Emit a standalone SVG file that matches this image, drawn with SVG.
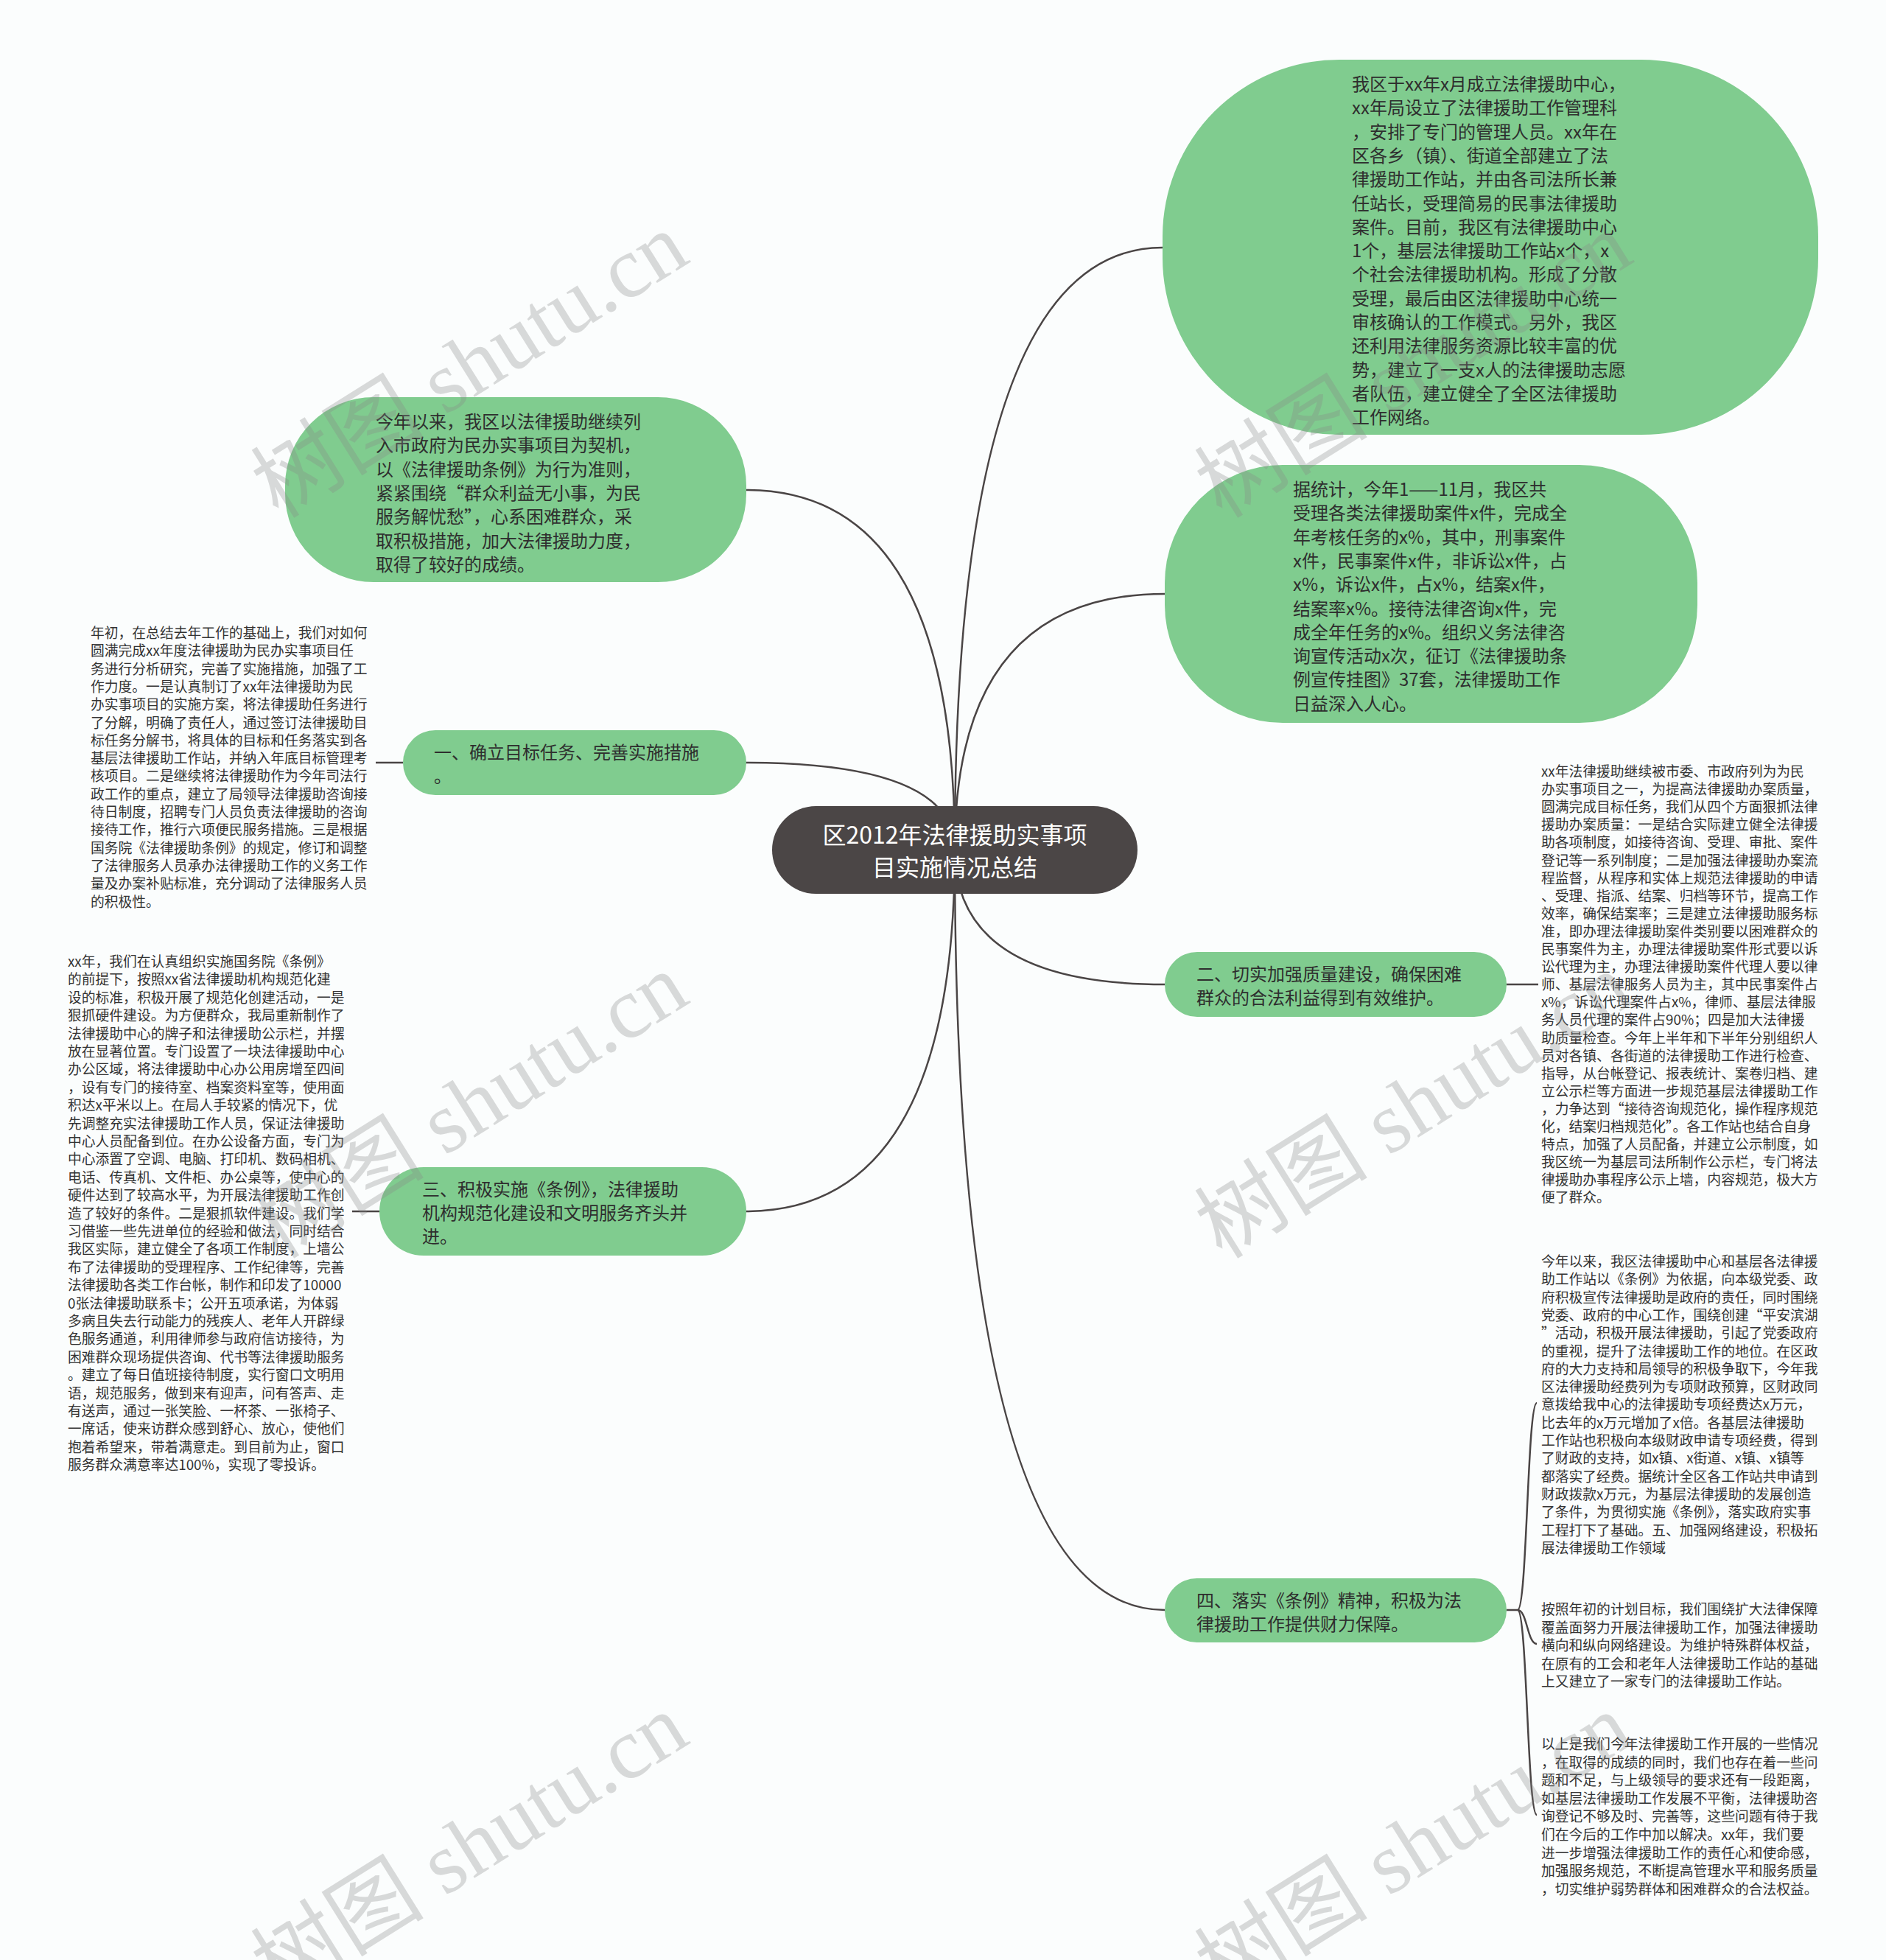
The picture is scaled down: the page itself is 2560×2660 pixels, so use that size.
<svg xmlns="http://www.w3.org/2000/svg" width="2560" height="2660" viewBox="0 0 2560 2660">
<style>
.bg{fill:#fbfdfd}
.bub{fill:#80cc8f}
.ctr{fill:#4b4646}
.edge{fill:none;stroke:#4a4545;stroke-width:2.5}
.t24{font-family:"Noto Sans CJK SC","Noto Sans",sans-serif;font-size:24px;fill:#2e2e2e;dominant-baseline:central}
.t19{font-family:"Noto Sans CJK SC","Noto Sans",sans-serif;font-size:18.8px;fill:#333;dominant-baseline:central}
.tc{font-family:"Noto Sans CJK SC","Noto Sans",sans-serif;font-size:32px;fill:#ffffff;dominant-baseline:central;text-anchor:middle}
.wm{font-family:"Liberation Serif","Noto Sans CJK SC",serif;font-size:118px;fill:#888;opacity:0.3}
</style>
<rect class="bg" x="0" y="0" width="2560" height="2660"/>
<g id="connectors">
<path class="edge" d="M1296,1153 Q1296,336 1578,336"/>
<path class="edge" d="M1296,1153 Q1296,806 1581,806"/>
<path class="edge" d="M1296,1153 Q1296,665 1013,665"/>
<path class="edge" d="M1296,1153 Q1296,1035 1012,1035"/>
<path class="edge" d="M1296,1153 Q1296,1336 1581,1336"/>
<path class="edge" d="M1296,1153 Q1296,1644 1012,1644"/>
<path class="edge" d="M1296,1153 Q1296,2185 1581,2185"/>
<path class="edge" d="M547,1035 L510,1035"/>
<path class="edge" d="M2045,1336 L2088,1336"/>
<path class="edge" d="M515,1644 L478,1644"/>
<path class="edge" d="M2045,2185 L2060,2185 C2073,2185 2073,1904 2086,1904"/>
<path class="edge" d="M2060,2185 C2073,2185 2073,2231 2086,2231"/>
<path class="edge" d="M2060,2185 C2073,2185 2073,2463 2086,2463"/>
</g>
<g id="center">
<rect class="ctr" x="1048" y="1094" width="496" height="119" rx="59.5"/>
<text class="tc"><tspan x="1296" y="1131">区2012年法律援助实事项</tspan><tspan x="1296" y="1175">目实施情况总结</tspan></text>
</g>
<g id="n-top-right">
<rect class="bub" x="1578" y="81" width="890" height="509" rx="240"/>
<text class="t24">
<tspan x="1835" y="112">我区于xx年x月成立法律援助中心，</tspan>
<tspan x="1835" y="144.3">xx年局设立了法律援助工作管理科</tspan>
<tspan x="1835" y="176.6">，安排了专门的管理人员。xx年在</tspan>
<tspan x="1835" y="208.9">区各乡（镇）、街道全部建立了法</tspan>
<tspan x="1835" y="241.2">律援助工作站，并由各司法所长兼</tspan>
<tspan x="1835" y="273.5">任站长，受理简易的民事法律援助</tspan>
<tspan x="1835" y="305.8">案件。目前，我区有法律援助中心</tspan>
<tspan x="1835" y="338.1">1个，基层法律援助工作站x个，x</tspan>
<tspan x="1835" y="370.4">个社会法律援助机构。形成了分散</tspan>
<tspan x="1835" y="402.7">受理，最后由区法律援助中心统一</tspan>
<tspan x="1835" y="435">审核确认的工作模式。另外，我区</tspan>
<tspan x="1835" y="467.3">还利用法律服务资源比较丰富的优</tspan>
<tspan x="1835" y="499.6">势，建立了一支x人的法律援助志愿</tspan>
<tspan x="1835" y="531.9">者队伍，建立健全了全区法律援助</tspan>
<tspan x="1835" y="564.2">工作网络。</tspan>
</text>
</g>
<g id="n-right-2">
<rect class="bub" x="1581" y="631" width="723" height="350" rx="160"/>
<text class="t24">
<tspan x="1755" y="662">据统计，今年1——11月，我区共</tspan>
<tspan x="1755" y="694.3">受理各类法律援助案件x件，完成全</tspan>
<tspan x="1755" y="726.6">年考核任务的x%，其中，刑事案件</tspan>
<tspan x="1755" y="758.9">x件，民事案件x件，非诉讼x件，占</tspan>
<tspan x="1755" y="791.2">x%，诉讼x件，占x%，结案x件，</tspan>
<tspan x="1755" y="823.5">结案率x%。接待法律咨询x件，完</tspan>
<tspan x="1755" y="855.8">成全年任务的x%。组织义务法律咨</tspan>
<tspan x="1755" y="888.1">询宣传活动x次，征订《法律援助条</tspan>
<tspan x="1755" y="920.4">例宣传挂图》37套，法律援助工作</tspan>
<tspan x="1755" y="952.7">日益深入人心。</tspan>
</text>
</g>
<g id="n-left-top">
<rect class="bub" x="387" y="539" width="626" height="251" rx="120"/>
<text class="t24">
<tspan x="510" y="570">今年以来，我区以法律援助继续列</tspan>
<tspan x="510" y="602.3">入市政府为民办实事项目为契机，</tspan>
<tspan x="510" y="634.6">以《法律援助条例》为行为准则，</tspan>
<tspan x="510" y="666.9">紧紧围绕“群众利益无小事，为民</tspan>
<tspan x="510" y="699.2">服务解忧愁”，心系困难群众，采</tspan>
<tspan x="510" y="731.5">取积极措施，加大法律援助力度，</tspan>
<tspan x="510" y="763.8">取得了较好的成绩。</tspan>
</text>
</g>
<g id="n1">
<rect class="bub" x="547" y="991" width="466" height="88" rx="44"/>
<text class="t24"><tspan x="589" y="1019">一、确立目标任务、完善实施措施</tspan><tspan x="589" y="1051">。</tspan></text>
</g>
<g id="n2">
<rect class="bub" x="1581" y="1292" width="464" height="88" rx="44"/>
<text class="t24"><tspan x="1624" y="1320">二、切实加强质量建设，确保困难</tspan><tspan x="1624" y="1352">群众的合法利益得到有效维护。</tspan></text>
</g>
<g id="n3">
<rect class="bub" x="515" y="1584" width="498" height="120" rx="60"/>
<text class="t24"><tspan x="573" y="1612">三、积极实施《条例》，法律援助</tspan><tspan x="573" y="1644">机构规范化建设和文明服务齐头并</tspan><tspan x="573" y="1676">进。</tspan></text>
</g>
<g id="n4">
<rect class="bub" x="1581" y="2142" width="464" height="87" rx="43.5"/>
<text class="t24"><tspan x="1624" y="2170">四、落实《条例》精神，积极为法</tspan><tspan x="1624" y="2202">律援助工作提供财力保障。</tspan></text>
</g>
<g id="leaf1">
<text class="t19">
<tspan x="123" y="857">年初，在总结去年工作的基础上，我们对如何</tspan>
<tspan x="123" y="881.3">圆满完成xx年度法律援助为民办实事项目任</tspan>
<tspan x="123" y="905.6">务进行分析研究，完善了实施措施，加强了工</tspan>
<tspan x="123" y="929.9">作力度。一是认真制订了xx年法律援助为民</tspan>
<tspan x="123" y="954.2">办实事项目的实施方案，将法律援助任务进行</tspan>
<tspan x="123" y="978.5">了分解，明确了责任人，通过签订法律援助目</tspan>
<tspan x="123" y="1002.8">标任务分解书，将具体的目标和任务落实到各</tspan>
<tspan x="123" y="1027.1">基层法律援助工作站，并纳入年底目标管理考</tspan>
<tspan x="123" y="1051.4">核项目。二是继续将法律援助作为今年司法行</tspan>
<tspan x="123" y="1075.7">政工作的重点，建立了局领导法律援助咨询接</tspan>
<tspan x="123" y="1100">待日制度，招聘专门人员负责法律援助的咨询</tspan>
<tspan x="123" y="1124.3">接待工作，推行六项便民服务措施。三是根据</tspan>
<tspan x="123" y="1148.6">国务院《法律援助条例》的规定，修订和调整</tspan>
<tspan x="123" y="1172.9">了法律服务人员承办法律援助工作的义务工作</tspan>
<tspan x="123" y="1197.2">量及办案补贴标准，充分调动了法律服务人员</tspan>
<tspan x="123" y="1221.5">的积极性。</tspan>
</text>
</g>
<g id="leaf3">
<text class="t19">
<tspan x="92" y="1303">xx年，我们在认真组织实施国务院《条例》</tspan>
<tspan x="92" y="1327.4">的前提下，按照xx省法律援助机构规范化建</tspan>
<tspan x="92" y="1351.8">设的标准，积极开展了规范化创建活动，一是</tspan>
<tspan x="92" y="1376.2">狠抓硬件建设。为方便群众，我局重新制作了</tspan>
<tspan x="92" y="1400.6">法律援助中心的牌子和法律援助公示栏，并摆</tspan>
<tspan x="92" y="1425">放在显著位置。专门设置了一块法律援助中心</tspan>
<tspan x="92" y="1449.4">办公区域，将法律援助中心办公用房增至四间</tspan>
<tspan x="92" y="1473.8">，设有专门的接待室、档案资料室等，使用面</tspan>
<tspan x="92" y="1498.2">积达x平米以上。在局人手较紧的情况下，优</tspan>
<tspan x="92" y="1522.6">先调整充实法律援助工作人员，保证法律援助</tspan>
<tspan x="92" y="1547">中心人员配备到位。在办公设备方面，专门为</tspan>
<tspan x="92" y="1571.4">中心添置了空调、电脑、打印机、数码相机、</tspan>
<tspan x="92" y="1595.8">电话、传真机、文件柜、办公桌等，使中心的</tspan>
<tspan x="92" y="1620.2">硬件达到了较高水平，为开展法律援助工作创</tspan>
<tspan x="92" y="1644.6">造了较好的条件。二是狠抓软件建设。我们学</tspan>
<tspan x="92" y="1669">习借鉴一些先进单位的经验和做法，同时结合</tspan>
<tspan x="92" y="1693.4">我区实际，建立健全了各项工作制度，上墙公</tspan>
<tspan x="92" y="1717.8">布了法律援助的受理程序、工作纪律等，完善</tspan>
<tspan x="92" y="1742.2">法律援助各类工作台帐，制作和印发了10000</tspan>
<tspan x="92" y="1766.6">0张法律援助联系卡；公开五项承诺，为体弱</tspan>
<tspan x="92" y="1791">多病且失去行动能力的残疾人、老年人开辟绿</tspan>
<tspan x="92" y="1815.4">色服务通道，利用律师参与政府信访接待，为</tspan>
<tspan x="92" y="1839.8">困难群众现场提供咨询、代书等法律援助服务</tspan>
<tspan x="92" y="1864.2">。建立了每日值班接待制度，实行窗口文明用</tspan>
<tspan x="92" y="1888.6">语，规范服务，做到来有迎声，问有答声、走</tspan>
<tspan x="92" y="1913">有送声，通过一张笑脸、一杯茶、一张椅子、</tspan>
<tspan x="92" y="1937.4">一席话，使来访群众感到舒心、放心，使他们</tspan>
<tspan x="92" y="1961.8">抱着希望来，带着满意走。到目前为止，窗口</tspan>
<tspan x="92" y="1986.2">服务群众满意率达100%，实现了零投诉。</tspan>
</text>
</g>
<g id="leaf2">
<text class="t19">
<tspan x="2092" y="1045">xx年法律援助继续被市委、市政府列为为民</tspan>
<tspan x="2092" y="1069.1">办实事项目之一，为提高法律援助办案质量，</tspan>
<tspan x="2092" y="1093.2">圆满完成目标任务，我们从四个方面狠抓法律</tspan>
<tspan x="2092" y="1117.3">援助办案质量：一是结合实际建立健全法律援</tspan>
<tspan x="2092" y="1141.4">助各项制度，如接待咨询、受理、审批、案件</tspan>
<tspan x="2092" y="1165.5">登记等一系列制度；二是加强法律援助办案流</tspan>
<tspan x="2092" y="1189.6">程监督，从程序和实体上规范法律援助的申请</tspan>
<tspan x="2092" y="1213.7">、受理、指派、结案、归档等环节，提高工作</tspan>
<tspan x="2092" y="1237.8">效率，确保结案率；三是建立法律援助服务标</tspan>
<tspan x="2092" y="1261.9">准，即办理法律援助案件类别要以困难群众的</tspan>
<tspan x="2092" y="1286">民事案件为主，办理法律援助案件形式要以诉</tspan>
<tspan x="2092" y="1310.1">讼代理为主，办理法律援助案件代理人要以律</tspan>
<tspan x="2092" y="1334.2">师、基层法律服务人员为主，其中民事案件占</tspan>
<tspan x="2092" y="1358.3">x%，诉讼代理案件占x%，律师、基层法律服</tspan>
<tspan x="2092" y="1382.4">务人员代理的案件占90%；四是加大法律援</tspan>
<tspan x="2092" y="1406.5">助质量检查。今年上半年和下半年分别组织人</tspan>
<tspan x="2092" y="1430.6">员对各镇、各街道的法律援助工作进行检查、</tspan>
<tspan x="2092" y="1454.7">指导，从台帐登记、报表统计、案卷归档、建</tspan>
<tspan x="2092" y="1478.8">立公示栏等方面进一步规范基层法律援助工作</tspan>
<tspan x="2092" y="1502.9">，力争达到“接待咨询规范化，操作程序规范</tspan>
<tspan x="2092" y="1527">化，结案归档规范化”。各工作站也结合自身</tspan>
<tspan x="2092" y="1551.1">特点，加强了人员配备，并建立公示制度，如</tspan>
<tspan x="2092" y="1575.2">我区统一为基层司法所制作公示栏，专门将法</tspan>
<tspan x="2092" y="1599.3">律援助办事程序公示上墙，内容规范，极大方</tspan>
<tspan x="2092" y="1623.4">便了群众。</tspan>
</text>
</g>
<g id="leaf4a">
<text class="t19">
<tspan x="2092" y="1710">今年以来，我区法律援助中心和基层各法律援</tspan>
<tspan x="2092" y="1734.3">助工作站以《条例》为依据，向本级党委、政</tspan>
<tspan x="2092" y="1758.6">府积极宣传法律援助是政府的责任，同时围绕</tspan>
<tspan x="2092" y="1782.9">党委、政府的中心工作，围绕创建“平安滨湖</tspan>
<tspan x="2092" y="1807.2">”活动，积极开展法律援助，引起了党委政府</tspan>
<tspan x="2092" y="1831.5">的重视，提升了法律援助工作的地位。在区政</tspan>
<tspan x="2092" y="1855.8">府的大力支持和局领导的积极争取下，今年我</tspan>
<tspan x="2092" y="1880.1">区法律援助经费列为专项财政预算，区财政同</tspan>
<tspan x="2092" y="1904.4">意拨给我中心的法律援助专项经费达x万元，</tspan>
<tspan x="2092" y="1928.7">比去年的x万元增加了x倍。各基层法律援助</tspan>
<tspan x="2092" y="1953">工作站也积极向本级财政申请专项经费，得到</tspan>
<tspan x="2092" y="1977.3">了财政的支持，如x镇、x街道、x镇、x镇等</tspan>
<tspan x="2092" y="2001.6">都落实了经费。据统计全区各工作站共申请到</tspan>
<tspan x="2092" y="2025.9">财政拨款x万元，为基层法律援助的发展创造</tspan>
<tspan x="2092" y="2050.2">了条件，为贯彻实施《条例》，落实政府实事</tspan>
<tspan x="2092" y="2074.5">工程打下了基础。五、加强网络建设，积极拓</tspan>
<tspan x="2092" y="2098.8">展法律援助工作领域</tspan>
</text>
</g>
<g id="leaf4b">
<text class="t19">
<tspan x="2092" y="2182">按照年初的计划目标，我们围绕扩大法律保障</tspan>
<tspan x="2092" y="2206.5">覆盖面努力开展法律援助工作，加强法律援助</tspan>
<tspan x="2092" y="2231">横向和纵向网络建设。为维护特殊群体权益，</tspan>
<tspan x="2092" y="2255.5">在原有的工会和老年人法律援助工作站的基础</tspan>
<tspan x="2092" y="2280">上又建立了一家专门的法律援助工作站。</tspan>
</text>
</g>
<g id="leaf4c">
<text class="t19">
<tspan x="2092" y="2365">以上是我们今年法律援助工作开展的一些情况</tspan>
<tspan x="2092" y="2389.6">，在取得的成绩的同时，我们也存在着一些问</tspan>
<tspan x="2092" y="2414.2">题和不足，与上级领导的要求还有一段距离，</tspan>
<tspan x="2092" y="2438.8">如基层法律援助工作发展不平衡，法律援助咨</tspan>
<tspan x="2092" y="2463.4">询登记不够及时、完善等，这些问题有待于我</tspan>
<tspan x="2092" y="2488">们在今后的工作中加以解决。xx年，我们要</tspan>
<tspan x="2092" y="2512.6">进一步增强法律援助工作的责任心和使命感，</tspan>
<tspan x="2092" y="2537.2">加强服务规范，不断提高管理水平和服务质量</tspan>
<tspan x="2092" y="2561.8">，切实维护弱势群体和困难群众的合法权益。</tspan>
</text>
</g>
<g id="watermarks">
<text class="wm" transform="translate(378,705) rotate(-32)">树图 shutu.cn</text>
<text class="wm" transform="translate(1659,705) rotate(-32)">树图 shutu.cn</text>
<text class="wm" transform="translate(378,1710) rotate(-32)">树图 shutu.cn</text>
<text class="wm" transform="translate(1659,1710) rotate(-32)">树图 shutu.cn</text>
<text class="wm" transform="translate(378,2715) rotate(-32)">树图 shutu.cn</text>
<text class="wm" transform="translate(1659,2715) rotate(-32)">树图 shutu.cn</text>
</g>
</svg>
